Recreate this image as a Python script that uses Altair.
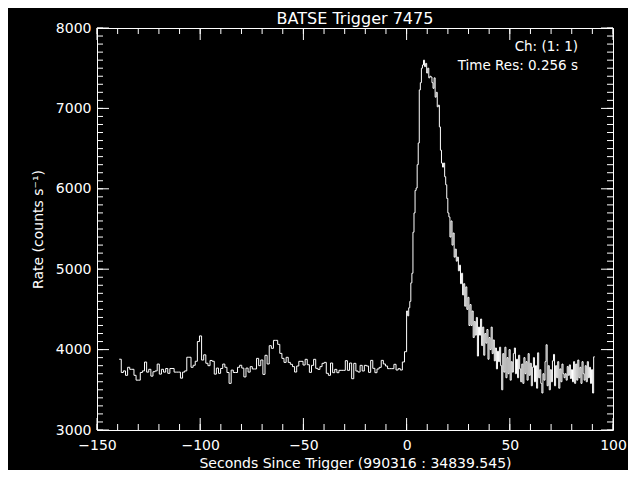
import altair as alt
import pandas as pd

# ---------------- data ----------------
pre_res = 1.024   # pre-trigger bin width (s)
post_res = 0.512  # post-trigger bin width (s)

pre_rates = [
    3880, 3715, 3735, 3680, 3780, 3755, 3755, 3680, 3620, 3620,
    3715, 3735, 3845, 3720, 3755, 3670, 3725, 3735, 3820, 3695,
    3755, 3720, 3765, 3705, 3765, 3765, 3720, 3720, 3720, 3645,
    3720, 3735, 3905, 3905, 3780, 3805, 3855, 4100, 4170, 3870,
    3935, 3830, 3800, 3865, 3855, 3695, 3770, 3705, 3765, 3820,
    3780, 3715, 3580, 3745, 3715, 3715, 3780, 3805, 3770, 3660,
    3770, 3720,
    3788, 3759, 3759, 3891, 3800, 3871, 3692, 3929, 3821, 4049,
    4016, 4115, 4115, 4065, 3953, 3891, 3841, 3904, 3841, 3817,
    3788, 3721, 3796, 3854, 3854, 3808, 3879, 3812, 3717, 3804,
    3879, 3767, 3754, 3788, 3829, 3841, 3705, 3680, 3833, 3713,
    3754, 3713, 3742, 3742, 3742, 3862, 3742, 3833, 3638, 3829,
    3734, 3721, 3804, 3734, 3804, 3796, 3717, 3866, 3767, 3713,
    3759, 3779, 3866, 3821, 3796, 3763, 3763, 3763, 3817, 3746,
    3763, 3746, 3846, 3974,
]

post_rates = [
    4480, 4420, 4520, 4600, 4830, 4950, 5460, 5700, 5980, 6010,
    6300, 6570, 7230, 7320, 7500, 7540, 7600, 7520, 7560, 7440,
    7500, 7380, 7400, 7390, 7320, 7250, 7380, 7140, 7200, 7020,
    7040, 6770, 6480, 6320, 6270, 6320, 6150, 6050, 5880, 5700,
    5650, 5400, 5600, 5300, 5450, 5150, 5250, 5100, 5150, 4980,
    5050, 4820, 4950, 4680, 4820, 4540, 4780, 4500, 4650, 4300,
    4560, 4300, 4480, 4150, 4350, 4180, 4400, 3920, 4280, 4180,
    4380, 4050, 4280, 3930, 4200, 4080, 4250, 3880, 4150, 4000,
    4280, 3950, 4120, 3860, 4020, 3760, 3980, 3850, 4030, 3800,
    3500, 3950, 3720, 4030, 3650, 3900, 3700, 4000, 3620, 3850,
    3720, 3950, 4020, 3700, 3880, 3650, 3930, 3760, 3600, 3820,
    3580, 3900, 3700, 3850, 3620, 3950, 3680, 3830, 3550, 3780,
    3900, 3600, 3800, 3520, 3960, 3650, 3750, 3580, 3460, 3700,
    3620, 3850, 4060, 3550, 3800, 3500, 3750, 3600, 3860, 3940,
    3550, 3800, 3650, 3850, 3520, 3760, 3600, 3820, 3700, 3650,
    3700, 3620, 3790, 3680, 3810, 3640, 3750, 3600, 3850, 3580,
    3820, 3620, 3870, 3650, 3780, 3580, 3850, 3700, 3620, 3800,
    3600, 3850, 3650, 3780, 3580, 3750, 3460, 3910,
]

x_major = [-150, -100, -50, 0, 50, 100]
y_major = [3000, 4000, 5000, 6000, 7000, 8000]
x_minor = list(range(-150, 101, 10))
y_minor = list(range(3000, 8001, 100))

title_text = "BATSE Trigger 7475"
x_title = "Seconds Since Trigger (990316 : 34839.545)"
y_title = "Rate (counts s\u207b\u00b9)"
annot_1 = "Ch: (1: 1)"
annot_2 = "Time Res: 0.256 s"

# ---------------- build tables ----------------
n_pre = len(pre_rates)
t_pre = [-(n_pre - i) * pre_res for i in range(n_pre)]
t_post = [i * post_res for i in range(len(post_rates))]
times = t_pre + t_post + [len(post_rates) * post_res]
rates = pre_rates + post_rates + [post_rates[-1]]
df = pd.DataFrame({"t": times, "rate": rates})

W, H = 516, 402
FONT = "DejaVu Sans"

xscale = alt.Scale(domain=[-150, 100], nice=False, zero=False, padding=0)
yscale = alt.Scale(domain=[3000, 8000], nice=False, zero=False, padding=0)

xaxis = alt.Axis(
    values=x_major, format="d", title=x_title, ticks=False, domain=False,
    grid=False, labelColor="white", titleColor="white", labelFontSize=14,
    titleFontSize=14, labelFont=FONT, titleFont=FONT, titleFontWeight="normal",
    labelPadding=8, titlePadding=4, labelFlush=False)
yaxis = alt.Axis(
    values=y_major, format="d", title=y_title, ticks=False, domain=False,
    grid=False, labelColor="white", titleColor="white", labelFontSize=14,
    titleFontSize=14, labelFont=FONT, titleFont=FONT, titleFontWeight="normal",
    labelPadding=6, titlePadding=10, labelFlush=False)

line = alt.Chart(df).mark_line(
    interpolate="step-after", color="white", strokeWidth=1
).encode(
    x=alt.X("t:Q", scale=xscale, axis=xaxis),
    y=alt.Y("rate:Q", scale=yscale, axis=yaxis),
)

xmaj = pd.DataFrame({"v": x_major})
xmin = pd.DataFrame({"v": x_minor})
ymaj = pd.DataFrame({"v": y_major})
ymin = pd.DataFrame({"v": y_minor})

def xticks(d, length):
    base = alt.Chart(d).mark_rule(color="white", strokeWidth=1)
    xe = alt.X("v:Q", scale=xscale, axis=xaxis)
    bottom = base.encode(x=xe, y=alt.value(H), y2=alt.value(H - length))
    top = base.encode(x=xe, y=alt.value(0), y2=alt.value(length))
    return [bottom, top]

def yticks(d, length):
    base = alt.Chart(d).mark_rule(color="white", strokeWidth=1)
    ye = alt.Y("v:Q", scale=yscale, axis=yaxis)
    left = base.encode(y=ye, x=alt.value(0), x2=alt.value(length))
    right = base.encode(y=ye, x=alt.value(W), x2=alt.value(W - length))
    return [left, right]

one = pd.DataFrame({"k": [0]})
t1 = alt.Chart(one).mark_text(
    text=annot_1, color="white", font=FONT, fontSize=13.5, align="right", baseline="middle"
).encode(x=alt.value(481), y=alt.value(19))
t2 = alt.Chart(one).mark_text(
    text=annot_2, color="white", font=FONT, fontSize=13.5, align="right", baseline="middle"
).encode(x=alt.value(481), y=alt.value(38))

layers = [line] + xticks(xmin, 6) + xticks(xmaj, 12) + yticks(ymin, 6) + yticks(ymaj, 12) + [t1, t2]

chart = alt.layer(*layers).properties(
    width=W, height=H,
    autosize="none",
    padding={"left": 89, "top": 20, "right": 15, "bottom": 40},
    title=alt.Title(title_text, color="white", fontSize=16, font=FONT,
                    fontWeight="normal", offset=0, dy=6),
).configure(
    background="black"
).configure_view(
    stroke="white", strokeWidth=1
)

chart.save("out.html", embed_options={"renderer": "svg", "actions": False})
